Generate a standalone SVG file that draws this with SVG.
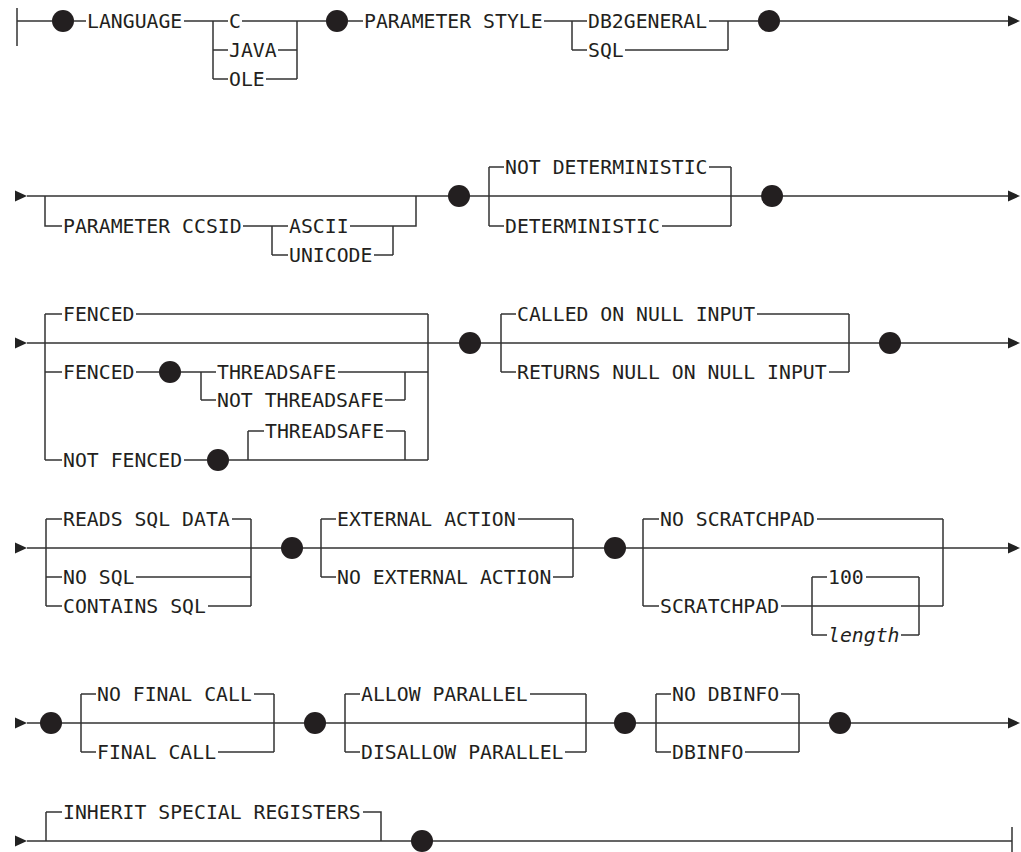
<svg xmlns="http://www.w3.org/2000/svg" width="1021" height="852" viewBox="0 0 1021 852">
<style>
.bg{fill:#ffffff}
.l{fill:none;stroke:#333333;stroke-width:1.5}
.a{fill:#222222}
.d{fill:#231f20}
.t{font-family:"DejaVu Sans Mono","Liberation Mono",monospace;font-size:19.8px;fill:#231f20}
.i{font-style:italic}
</style>
<defs>
<path id="arr" d="M0,-5.5 L12,0 L0,5.5 Z"/>
</defs>
<rect class="bg" x="0" y="0" width="1021" height="852"/>
<g id="connectors">
<path class="l" d="M17,8 V46 M17,21 H52 M74,21 H86 M184,21 H228 M213,21 V79 M213,50 H228 M213,79 H228 M242,21 H297 M278,50 H297 M266,79 H297 M297,21 V79 M297,21 H326 M348,21 H363 M544,21 H587 M572,21 V50 M572,50 H587 M709,21 H728 M625,50 H728 M728,21 V50 M728,21 H758 M780,21 H1008"/>
<path class="l" d="M27,196 H1008 M45,196 V226 H62 M243,226 H288 M272,226 V255 M272,255 H288 M350,226 H393 M374,255 H393 M393,226 V255 M393,226 H416 V196 M489,167 V226 M489,167 H504 M709,167 H731 M489,226 H504 M662,226 H731 M731,167 V226"/>
<path class="l" d="M27,343 H1008 M45,314 V460 M45,314 H62 M136,314 H428 M45,372 H62 M136,372 H159 M181,372 H216 M201,372 V400 M201,400 H216 M338,372 H405 M385,400 H405 M405,372 V400 M405,372 H428 M45,460 H62 M184,460 H207 M229,460 H428 M248,431 V460 M248,431 H264 M386,431 H405 M405,431 V460 M428,314 V460 M501,314 V372 M501,314 H516 M757,314 H849 M501,372 H516 M829,372 H849 M849,314 V372"/>
<path class="l" d="M27,548 H1008 M46,519 V606 M46,519 H62 M232,519 H251 M46,577 H62 M136,577 H251 M46,606 H62 M208,606 H251 M251,519 V606 M321,519 V577 M321,519 H336 M518,519 H573 M321,577 H336 M553,577 H573 M573,519 V577 M643,519 V606 M643,519 H659 M817,519 H943 M643,606 H659 M781,606 H943 M943,519 V606 M812,577 V635 M812,577 H827 M866,577 H919 M812,635 H827 M901,635 H919 M919,577 V635"/>
<path class="l" d="M27,723 H1008 M81,694 V752 M81,694 H96 M254,694 H274 M81,752 H96 M218,752 H274 M274,694 V752 M345,694 V752 M345,694 H360 M530,694 H586 M345,752 H360 M565,752 H586 M586,694 V752 M656,694 V752 M656,694 H671 M781,694 H799 M656,752 H671 M745,752 H799 M799,694 V752"/>
<path class="l" d="M27,841 H1012 M46,812 V841 M46,812 H62 M363,812 H381 V841 M1012,827 V852"/>
<use href="#arr" class="a" x="1008" y="21"/>
<use href="#arr" class="a" x="15" y="196"/>
<use href="#arr" class="a" x="1008" y="196"/>
<use href="#arr" class="a" x="15" y="343"/>
<use href="#arr" class="a" x="1008" y="343"/>
<use href="#arr" class="a" x="15" y="548"/>
<use href="#arr" class="a" x="1008" y="548"/>
<use href="#arr" class="a" x="15" y="723"/>
<use href="#arr" class="a" x="1008" y="723"/>
<use href="#arr" class="a" x="15" y="841"/>
</g>
<g id="dots">
<circle id="dot1" class="d" cx="63" cy="21" r="11"/>
<circle id="dot2" class="d" cx="337" cy="21" r="11"/>
<circle id="dot3" class="d" cx="769" cy="21" r="11"/>
<circle id="dot4" class="d" cx="459" cy="196" r="11"/>
<circle id="dot5" class="d" cx="772" cy="196" r="11"/>
<circle id="dot6" class="d" cx="170" cy="372" r="11"/>
<circle id="dot7" class="d" cx="218" cy="460" r="11"/>
<circle id="dot8" class="d" cx="470" cy="343" r="11"/>
<circle id="dot9" class="d" cx="890" cy="343" r="11"/>
<circle id="dot10" class="d" cx="292" cy="548" r="11"/>
<circle id="dot11" class="d" cx="615" cy="548" r="11"/>
<circle id="dot12" class="d" cx="51" cy="723" r="11"/>
<circle id="dot13" class="d" cx="315" cy="723" r="11"/>
<circle id="dot14" class="d" cx="625" cy="723" r="11"/>
<circle id="dot15" class="d" cx="840" cy="723" r="11"/>
<circle id="dot16" class="d" cx="422" cy="841" r="11"/>
</g>
<g id="n-language"><text class="t" x="87" y="28">LANGUAGE</text></g>
<g id="n-c"><text class="t" x="229" y="28">C</text></g>
<g id="n-java"><text class="t" x="229" y="57">JAVA</text></g>
<g id="n-ole"><text class="t" x="229" y="86">OLE</text></g>
<g id="n-paramstyle"><text class="t" x="364" y="28">PARAMETER STYLE</text></g>
<g id="n-db2general"><text class="t" x="588" y="28">DB2GENERAL</text></g>
<g id="n-sql"><text class="t" x="588" y="57">SQL</text></g>
<g id="n-ccsid"><text class="t" x="63" y="233">PARAMETER CCSID</text></g>
<g id="n-ascii"><text class="t" x="289" y="233">ASCII</text></g>
<g id="n-unicode"><text class="t" x="289" y="262">UNICODE</text></g>
<g id="n-notdet"><text class="t" x="505" y="174">NOT DETERMINISTIC</text></g>
<g id="n-det"><text class="t" x="505" y="233">DETERMINISTIC</text></g>
<g id="n-fenced1"><text class="t" x="63" y="321">FENCED</text></g>
<g id="n-fenced2"><text class="t" x="63" y="379">FENCED</text></g>
<g id="n-threadsafe1"><text class="t" x="217" y="379">THREADSAFE</text></g>
<g id="n-notthreadsafe"><text class="t" x="217" y="407">NOT THREADSAFE</text></g>
<g id="n-notfenced"><text class="t" x="63" y="467">NOT FENCED</text></g>
<g id="n-threadsafe2"><text class="t" x="265" y="438">THREADSAFE</text></g>
<g id="n-called"><text class="t" x="517" y="321">CALLED ON NULL INPUT</text></g>
<g id="n-returns"><text class="t" x="517" y="379">RETURNS NULL ON NULL INPUT</text></g>
<g id="n-reads"><text class="t" x="63" y="526">READS SQL DATA</text></g>
<g id="n-nosql"><text class="t" x="63" y="584">NO SQL</text></g>
<g id="n-contains"><text class="t" x="63" y="613">CONTAINS SQL</text></g>
<g id="n-extaction"><text class="t" x="337" y="526">EXTERNAL ACTION</text></g>
<g id="n-noextaction"><text class="t" x="337" y="584">NO EXTERNAL ACTION</text></g>
<g id="n-noscratch"><text class="t" x="660" y="526">NO SCRATCHPAD</text></g>
<g id="n-scratch"><text class="t" x="660" y="613">SCRATCHPAD</text></g>
<g id="n-100"><text class="t" x="828" y="584">100</text></g>
<g id="n-length"><text class="t i" x="828" y="642">length</text></g>
<g id="n-nofinal"><text class="t" x="97" y="701">NO FINAL CALL</text></g>
<g id="n-final"><text class="t" x="97" y="759">FINAL CALL</text></g>
<g id="n-allow"><text class="t" x="361" y="701">ALLOW PARALLEL</text></g>
<g id="n-disallow"><text class="t" x="361" y="759">DISALLOW PARALLEL</text></g>
<g id="n-nodbinfo"><text class="t" x="672" y="701">NO DBINFO</text></g>
<g id="n-dbinfo"><text class="t" x="672" y="759">DBINFO</text></g>
<g id="n-inherit"><text class="t" x="63" y="819">INHERIT SPECIAL REGISTERS</text></g>
</svg>
